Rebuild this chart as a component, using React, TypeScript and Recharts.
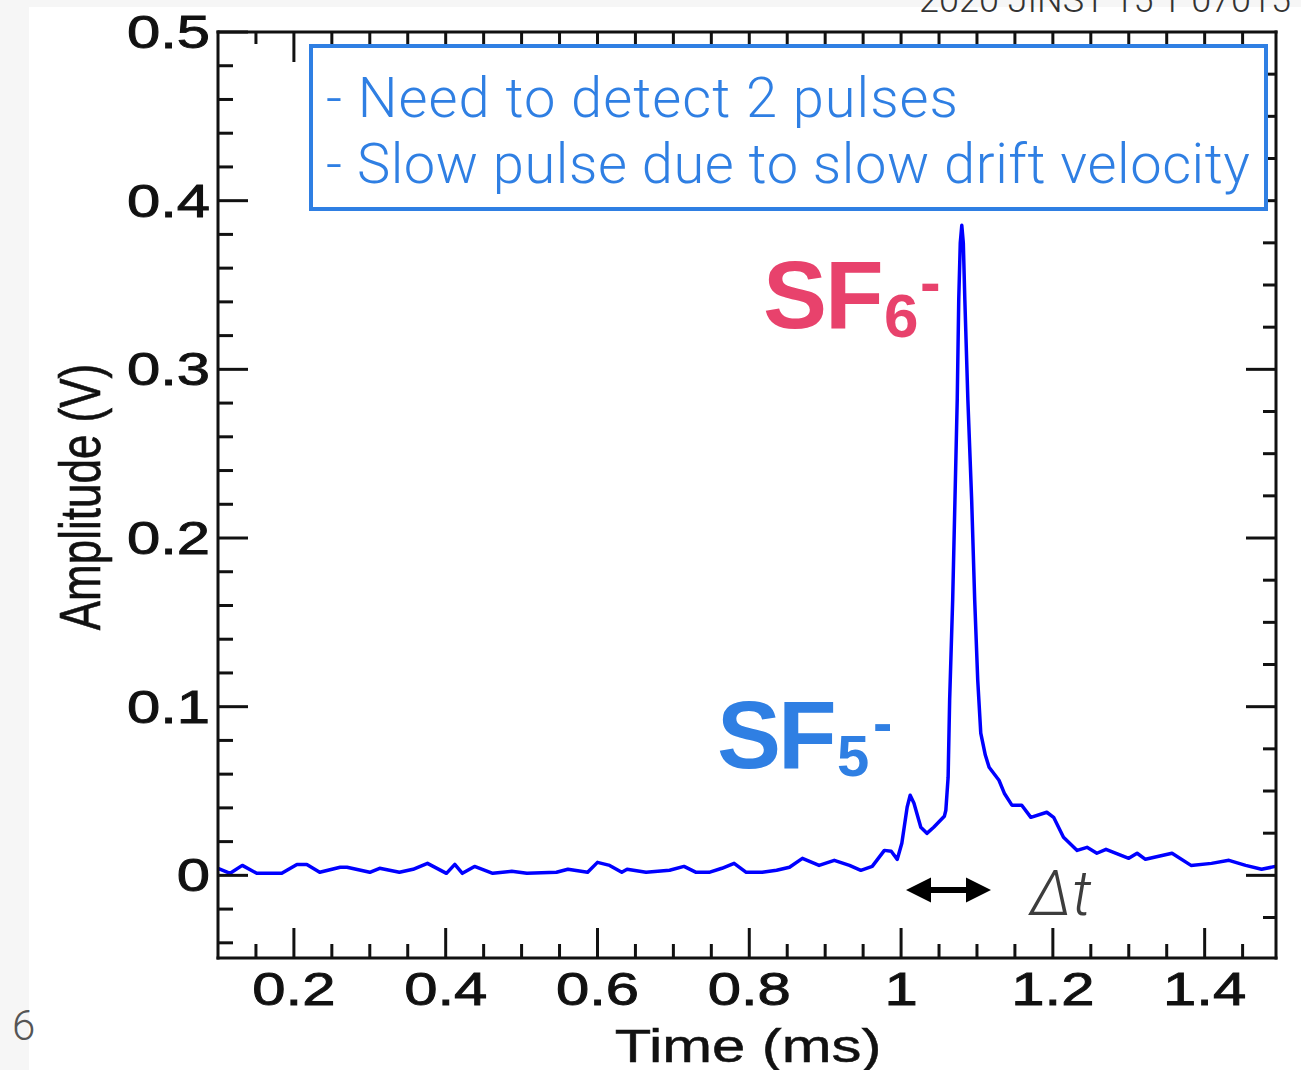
import { LineChart, Line, XAxis, YAxis } from "recharts";

// pulse trace
const timeMs = [
  0.1, 0.116, 0.132, 0.151, 0.184, 0.204, 0.217, 0.234, 0.261, 0.27, 0.3, 0.313,
  0.339, 0.357, 0.376, 0.401, 0.412, 0.422, 0.438, 0.462, 0.487, 0.507, 0.546,
  0.561, 0.587, 0.6, 0.616, 0.632, 0.639, 0.664, 0.695, 0.714, 0.73, 0.747,
  0.764, 0.78, 0.796, 0.817, 0.836, 0.853, 0.87, 0.892, 0.912, 0.932, 0.947,
  0.962, 0.978, 0.987, 0.995, 1.001, 1.008, 1.012, 1.017, 1.026, 1.034, 1.043,
  1.057, 1.059, 1.062, 1.064, 1.068, 1.071, 1.074, 1.076, 1.078, 1.08, 1.082,
  1.084, 1.088, 1.093, 1.097, 1.101, 1.105, 1.111, 1.116, 1.129, 1.136, 1.146,
  1.159, 1.171, 1.192, 1.201, 1.214, 1.232, 1.245, 1.258, 1.27, 1.3, 1.311,
  1.322, 1.357, 1.382, 1.409, 1.432, 1.454, 1.475, 1.493,
];
const amplitudeV = [
  0.0042, 0.0012, 0.0059, 0.0012, 0.0012, 0.0065, 0.0065, 0.0018, 0.0048,
  0.0048, 0.0018, 0.0042, 0.0018, 0.0036, 0.0071, 0.0012, 0.0065, 0.0012,
  0.0053, 0.0012, 0.0024, 0.0012, 0.0018, 0.0036, 0.0018, 0.0077, 0.0059,
  0.0018, 0.0036, 0.0018, 0.003, 0.0053, 0.0018, 0.0018, 0.0042, 0.0071,
  0.0018, 0.0018, 0.003, 0.0048, 0.0101, 0.0059, 0.0089, 0.0059, 0.003,
  0.0053, 0.0148, 0.0143, 0.0095, 0.019, 0.0404, 0.0475, 0.0428, 0.0285,
  0.0249, 0.0285, 0.035, 0.0386, 0.0582, 0.1039, 0.1633, 0.2227, 0.2821,
  0.3415, 0.375, 0.3854, 0.375, 0.3415, 0.2821, 0.2227, 0.1633, 0.1158,
  0.0843, 0.0713, 0.0641, 0.0564, 0.0487, 0.0416, 0.0416, 0.0344, 0.0374,
  0.0344, 0.0226, 0.0148, 0.0166, 0.0131, 0.0154, 0.0101, 0.0131, 0.0095,
  0.0131, 0.0059, 0.0071, 0.0089, 0.0059, 0.0036, 0.0053,
];

const xTicks = [
  0.15, 0.2, 0.25, 0.3, 0.35, 0.4, 0.45, 0.5, 0.55, 0.6, 0.65, 0.7, 0.75, 0.8,
  0.85, 0.9, 0.95, 1, 1.05, 1.1, 1.15, 1.2, 1.25, 1.3, 1.35, 1.4, 1.45,
];
const xLabelValues = [0.2, 0.4, 0.6, 0.8, 1, 1.2, 1.4];
const xLabels = ["0.2", "0.4", "0.6", "0.8", "1", "1.2", "1.4"];

const yTicksLeft = [
  -0.04, -0.02, 0, 0.02, 0.04, 0.06, 0.08, 0.1, 0.12, 0.14, 0.16, 0.18, 0.2,
  0.22, 0.24, 0.26, 0.28, 0.3, 0.32, 0.34, 0.36, 0.38, 0.4, 0.42, 0.44, 0.46,
  0.48, 0.5,
];
const yTicksRight = [
  -0.025, 0, 0.025, 0.05, 0.075, 0.1, 0.125, 0.15, 0.175, 0.2, 0.225, 0.25,
  0.275, 0.3, 0.325, 0.35, 0.375, 0.4, 0.425, 0.45, 0.475,
];
const yLabelValues = [0, 0.1, 0.2, 0.3, 0.4, 0.5];
const yLabels = ["0", "0.1", "0.2", "0.3", "0.4", "0.5"];

const data = timeMs.map((t, i) => ({ t, v: amplitudeV[i] }));

const INK = "#111";
const AXIS_FONT = "'Liberation Sans', Arial, Helvetica, sans-serif";
const LIGHT_FONT = "Roboto, 'Liberation Sans', Arial, sans-serif";
const BLUE = "#2f7fe3";
const PINK = "#e8426c";

const isMult = (v: number, step: number) =>
  Math.abs(v / step - Math.round(v / step)) < 1e-6;

const findLabel = (v: number, values: number[], labels: string[]) => {
  const i = values.findIndex((x) => Math.abs(x - v) < 1e-6);
  return i >= 0 ? labels[i] : null;
};

function BottomTick({ x, y, payload }: any) {
  const v = payload.value as number;
  const major = isMult(v, 0.2);
  const label = findLabel(v, xLabelValues, xLabels);
  return (
    <g>
      <line x1={x} x2={x} y1={y} y2={y - (major ? 30 : 14)} stroke={INK} strokeWidth={3} />
      {label && (
        <text
          transform={`translate(${x},${y + 47}) scale(1.3,1)`}
          textAnchor="middle"
          fontFamily={AXIS_FONT}
          fontSize={46}
          fill={INK}
          stroke={INK}
          strokeWidth={0.9}
        >
          {label}
        </text>
      )}
    </g>
  );
}

function TopTick({ x, y, payload }: any) {
  const v = payload.value as number;
  const major = isMult(v, 0.2);
  return <line x1={x} x2={x} y1={y} y2={y + (major ? 30 : 12)} stroke={INK} strokeWidth={3} />;
}

function LeftTick({ x, y, payload }: any) {
  const v = payload.value as number;
  const major = isMult(v, 0.1);
  const label = findLabel(v, yLabelValues, yLabels);
  return (
    <g>
      <line x1={x} x2={x + (major ? 30 : 15)} y1={y} y2={y} stroke={INK} strokeWidth={3} />
      {label && (
        <text
          transform={`translate(${x - 8},${y + 16}) scale(1.3,1)`}
          textAnchor="end"
          fontFamily={AXIS_FONT}
          fontSize={46}
          fill={INK}
          stroke={INK}
          strokeWidth={0.9}
        >
          {label}
        </text>
      )}
    </g>
  );
}

function RightTick({ x, y, payload }: any) {
  const v = payload.value as number;
  const major = isMult(v, 0.1);
  return <line x1={x} x2={x - (major ? 30 : 13)} y1={y} y2={y} stroke={INK} strokeWidth={3} />;
}

const axisLine = { stroke: INK, strokeWidth: 3, strokeLinecap: "square" as const };

export default function App() {
  return (
    <div
      style={{
        position: "absolute",
        left: 0,
        top: 0,
        width: 1301,
        height: 1070,
        background: "#f6f6f6",
        overflow: "hidden",
      }}
    >
      <div style={{ position: "absolute", left: 29, top: 7, right: 0, bottom: 0, background: "#fff" }} />
      <div style={{ position: "absolute", left: 0, top: 0 }}>
        <LineChart
          width={1301}
          height={1070}
          data={data}
          margin={{ top: 27, right: 20, bottom: 12, left: 28 }}
        >
          <XAxis
            xAxisId="bottom"
            dataKey="t"
            type="number"
            domain={[0.1, 1.494]}
            allowDataOverflow
            ticks={xTicks}
            interval={0}
            height={100}
            tickSize={0}
            tickMargin={0}
            tickLine={false}
            axisLine={axisLine}
            tick={<BottomTick />}
          />
          <XAxis
            xAxisId="top"
            orientation="top"
            dataKey="t"
            type="number"
            domain={[0.1, 1.494]}
            allowDataOverflow
            ticks={xTicks}
            interval={0}
            height={5}
            tickSize={0}
            tickMargin={0}
            tickLine={false}
            axisLine={axisLine}
            tick={<TopTick />}
          />
          <YAxis
            yAxisId="left"
            type="number"
            domain={[-0.049, 0.5]}
            allowDataOverflow
            ticks={yTicksLeft}
            interval={0}
            width={190}
            tickSize={0}
            tickMargin={0}
            tickLine={false}
            axisLine={axisLine}
            tick={<LeftTick />}
          />
          <YAxis
            yAxisId="right"
            orientation="right"
            type="number"
            domain={[-0.049, 0.5]}
            allowDataOverflow
            ticks={yTicksRight}
            interval={0}
            width={5}
            tickSize={0}
            tickMargin={0}
            tickLine={false}
            axisLine={axisLine}
            tick={<RightTick />}
          />
          <Line
            xAxisId="top"
            yAxisId="right"
            dataKey="v"
            stroke="none"
            dot={false}
            isAnimationActive={false}
          />
          <Line
            xAxisId="bottom"
            yAxisId="left"
            type="linear"
            dataKey="v"
            stroke="#0000ff"
            strokeWidth={3.5}
            strokeLinejoin="round"
            dot={false}
            isAnimationActive={false}
          />
        </LineChart>
      </div>
      <svg
        width={1301}
        height={1070}
        style={{ position: "absolute", left: 0, top: 0, pointerEvents: "none" }}
      >
        {/* journal ref, clipped at the top of the slide as in the source */}
        <text x={919} y={12} fontFamily={LIGHT_FONT} fontWeight={300} fontSize={36} fill="#333">
          2020 JINST 15 T 07015
        </text>
        <text x={12} y={1040} fontFamily={LIGHT_FONT} fontWeight={300} fontSize={42} fill="#555">
          6
        </text>

        {/* note box */}
        <rect x={311} y={46} width={955} height={163} fill="#fff" stroke={BLUE} strokeWidth={4} />
        <text
          x={326}
          y={117}
          fontFamily={LIGHT_FONT}
          fontWeight={300}
          fontSize={56}
          fill={BLUE}
          textLength={632}
          lengthAdjust="spacing"
        >
          - Need to detect 2 pulses
        </text>
        <text
          x={326}
          y={183}
          fontFamily={LIGHT_FONT}
          fontWeight={300}
          fontSize={56}
          fill={BLUE}
          textLength={924}
          lengthAdjust="spacing"
        >
          - Slow pulse due to slow drift velocity
        </text>

        {/* ion labels */}
        <g fontFamily={AXIS_FONT} fontWeight="bold" fill={PINK}>
          <text x={763} y={328} fontSize={96} letterSpacing={-2}>SF</text>
          <text x={884} y={337} fontSize={62}>6</text>
          <text x={920} y={303} fontSize={62}>-</text>
        </g>
        <g fontFamily={AXIS_FONT} fontWeight="bold" fill={BLUE}>
          <text x={717} y={768} fontSize={96} letterSpacing={-3}>SF</text>
          <text x={837} y={776} fontSize={58}>5</text>
          <text x={873} y={743} fontSize={58}>-</text>
        </g>

        {/* delta t arrow */}
        <path
          d="M906,890 L931,877.5 L931,887 L966,887 L966,877.5 L991,890 L966,902.5 L966,893 L931,893 L931,902.5 Z"
          fill="#000"
        />
        <text
          x={1030}
          y={915}
          fontFamily={LIGHT_FONT}
          fontWeight={300}
          fontStyle="italic"
          fontSize={62}
          fill="#3d3d3d"
        >
          Δt
        </text>

        {/* axis titles */}
        <text
          transform="translate(100,497) scale(1.3,1) rotate(-90)"
          textAnchor="middle"
          fontFamily={AXIS_FONT}
          fontSize={44}
          fill={INK}
          stroke={INK}
          strokeWidth={0.5}
        >
          Amplitude (V)
        </text>
        <text
          transform="translate(748,1062) scale(1.3,1)"
          textAnchor="middle"
          fontFamily={AXIS_FONT}
          fontSize={46}
          fill={INK}
          stroke={INK}
          strokeWidth={0.5}
        >
          Time (ms)
        </text>
      </svg>
    </div>
  );
}
